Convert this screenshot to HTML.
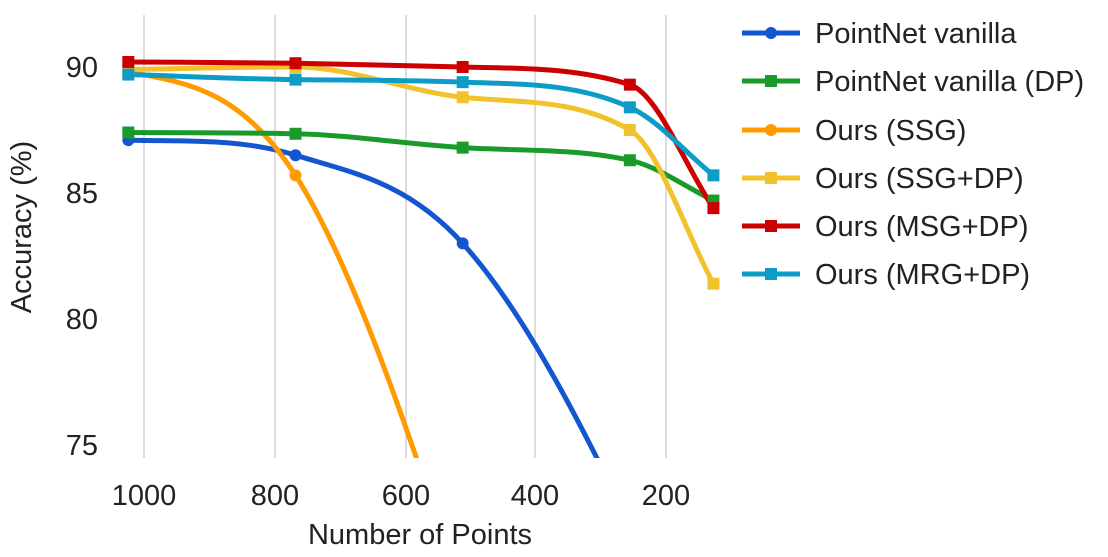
<!DOCTYPE html>
<html><head><meta charset="utf-8"><style>
html,body{margin:0;padding:0;background:#fff;width:1108px;height:557px;overflow:hidden;font-family:"Liberation Sans",sans-serif}
svg{display:block}
</style></head><body>
<svg id="s" width="1108" height="557" xmlns="http://www.w3.org/2000/svg" font-family="Liberation Sans, sans-serif">
<defs><clipPath id="c"><rect x="100" y="0" width="650" height="458"/></clipPath></defs>
<g stroke="#d0d0d0" stroke-width="1.5">
<line x1="144" y1="15" x2="144" y2="458"/><line x1="275" y1="15" x2="275" y2="458"/><line x1="406" y1="15" x2="406" y2="458"/><line x1="535" y1="15" x2="535" y2="458"/><line x1="666" y1="15" x2="666" y2="458"/>
</g>
<g font-size="29" fill="#222" text-anchor="middle">
<text x="144" y="505">1000</text><text x="275" y="505">800</text><text x="406" y="505">600</text><text x="535" y="505">400</text><text x="666" y="505">200</text>
<text x="420" y="544">Number of Points</text>
</g>
<g font-size="29" fill="#222" text-anchor="end">
<text x="98" y="77">90</text><text x="98" y="203">85</text><text x="98" y="329">80</text><text x="98" y="455">75</text>
</g>
<text transform="translate(31,227) rotate(-90)" font-size="29" fill="#222" text-anchor="middle">Accuracy (%)</text>
<g id="plot" clip-path="url(#c)"></g>
<g id="mk"></g>
<g font-size="29" fill="#222">
<line x1="742" y1="33" x2="800" y2="33" stroke="#1456d0" stroke-width="5"/><circle cx="771" cy="33" r="6" fill="#1456d0"/><text x="815" y="43">PointNet vanilla</text>
<line x1="742" y1="81" x2="800" y2="81" stroke="#1a9a2a" stroke-width="5"/><rect x="765" y="75" width="12" height="12" fill="#1a9a2a"/><text x="815" y="91">PointNet vanilla (DP)</text>
<line x1="742" y1="130" x2="800" y2="130" stroke="#ff9a00" stroke-width="5"/><circle cx="771" cy="130" r="6" fill="#ff9a00"/><text x="815" y="140">Ours (SSG)</text>
<line x1="742" y1="178" x2="800" y2="178" stroke="#f2c12e" stroke-width="5"/><rect x="765" y="172" width="12" height="12" fill="#f2c12e"/><text x="815" y="188">Ours (SSG+DP)</text>
<line x1="742" y1="226" x2="800" y2="226" stroke="#cc0000" stroke-width="5"/><rect x="765" y="220" width="12" height="12" fill="#cc0000"/><text x="815" y="236">Ours (MSG+DP)</text>
<line x1="742" y1="274" x2="800" y2="274" stroke="#0d9cc6" stroke-width="5"/><rect x="765" y="268" width="12" height="12" fill="#0d9cc6"/><text x="815" y="284">Ours (MRG+DP)</text>
</g>
</svg>
<script>
var X=[1024,768,512,256,128].map(v=>144+(1000-v)*0.653);
function Y(a){return 67+(90-a)*25.2;}
var S=[
["#1456d0","c",[87.1,86.5,83.0,71.8,62],3,1],
["#ff9a00","c",[89.8,85.7,69,45,25],2,1],
["#1a9a2a","s",[87.4,87.35,86.8,86.3,84.7],5,0],
["#f2c12e","s",[89.9,90.0,88.8,87.5,81.4],5,0],
["#cc0000","s",[90.2,90.15,90.0,89.3,84.4],5,0],
["#0d9cc6","s",[89.7,89.5,89.4,88.4,85.7],5,0]];
function mono(xs,ys){var n=xs.length,d=[],m=[];for(var i=0;i<n-1;i++)d.push((ys[i+1]-ys[i])/(xs[i+1]-xs[i]));
m[0]=d[0];m[n-1]=d[n-2];for(i=1;i<n-1;i++){m[i]=(d[i-1]*d[i]<=0)?0:(d[i-1]+d[i])/2;}
for(i=0;i<n-1;i++){if(d[i]==0){m[i]=m[i+1]=0;continue;}var a=m[i]/d[i],b=m[i+1]/d[i],h=a*a+b*b;if(h>9){var t=3/Math.sqrt(h);m[i]=t*a*d[i];m[i+1]=t*b*d[i];}}
return m;}
function cr(xs,ys){var n=xs.length,m=[];for(var i=0;i<n;i++){var a=Math.max(0,i-1),b=Math.min(n-1,i+1);m.push((ys[b]-ys[a])/(xs[b]-xs[a]));}
m[0]=0.3*(ys[1]-ys[0])/(xs[1]-xs[0]);return m;}
function path(xs,ys,m){var p="M"+xs[0]+","+ys[0];for(var i=0;i<xs.length-1;i++){var dx=(xs[i+1]-xs[i])/3;p+="C"+(xs[i]+dx)+","+(ys[i]+m[i]*dx)+" "+(xs[i+1]-dx)+","+(ys[i+1]-m[i+1]*dx)+" "+xs[i+1]+","+ys[i+1];}return p;}
var ns="http://www.w3.org/2000/svg",pl=document.getElementById("plot"),mk=document.getElementById("mk");
S.forEach(function(s){var ys=s[2].map(Y);var m=s[4]?cr(X,ys):mono(X,ys);var p=document.createElementNS(ns,"path");p.setAttribute("d",path(X,ys,m));p.setAttribute("fill","none");p.setAttribute("stroke",s[0]);p.setAttribute("stroke-width","5");pl.appendChild(p);
for(var i=0;i<s[3];i++){var e;if(s[1]=="c"){e=document.createElementNS(ns,"circle");e.setAttribute("cx",X[i]);e.setAttribute("cy",ys[i]);e.setAttribute("r",6);}else{e=document.createElementNS(ns,"rect");e.setAttribute("x",X[i]-6);e.setAttribute("y",ys[i]-6);e.setAttribute("width",12);e.setAttribute("height",12);}e.setAttribute("fill",s[0]);mk.appendChild(e);}});
</script>
</body></html>
